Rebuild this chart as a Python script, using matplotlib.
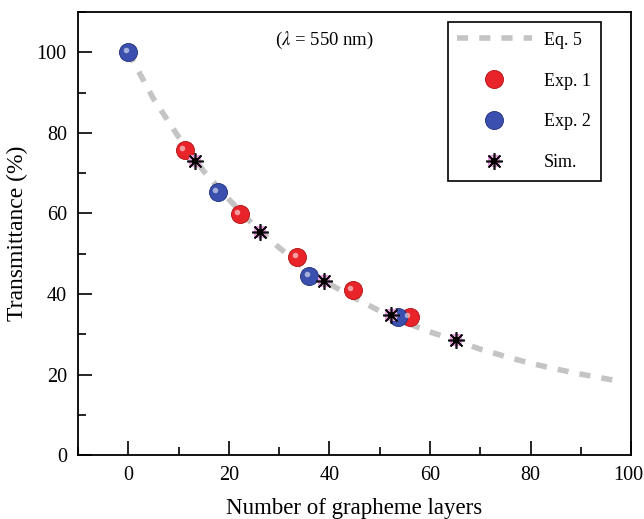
import matplotlib
matplotlib.use('Agg')
import matplotlib.pyplot as plt
from matplotlib.transforms import offset_copy, ScaledTranslation
from matplotlib.ticker import MultipleLocator

# Eq. 5 curve
eq_n = [0, 5, 10, 15, 20, 25, 30, 35, 40, 45, 50, 55, 60, 65, 70, 75, 80, 85, 90, 97]
eq_t = [100, 88.5, 79, 70.5, 63.5, 57, 51.5, 46.5, 42.5, 39, 35.8, 33, 30.6, 28.5, 26.3, 24.5, 22.8, 21.4, 20.1, 18.5]

exp1_n = [11.2, 22.2, 33.6, 44.6, 56.0]
exp1_t = [75.7, 59.8, 49.1, 40.9, 34.2]

exp2_n = [0, 17.8, 36.0, 53.6]
exp2_t = [100, 65.3, 44.4, 34.2]

sim_n = [13.2, 26.2, 39.0, 52.2, 65.2]
sim_t = [73.0, 55.3, 43.2, 34.7, 28.5]

xticks = [0, 20, 40, 60, 80, 100]
yticks = [0, 20, 40, 60, 80, 100]

plt.rcParams['font.family'] = ['Liberation Serif', 'DejaVu Serif']
plt.rcParams['mathtext.fontset'] = 'stix'

fig = plt.figure(figsize=(6.44, 5.19), dpi=100)
ax = fig.add_axes([0.121, 0.123, 0.859, 0.854])

line_eq, = ax.plot(eq_n, eq_t, color='#c4c4c4', lw=4, dashes=(2, 2), zorder=1)

def spheres(n, t, col, dark):
    h1, = ax.plot(n, t, 'o', ms=13, color=col, mec=dark, mew=0.6, zorder=3)
    hl = offset_copy(ax.transData, fig=fig, x=-2.5, y=2.5, units='dots')
    ax.plot(n, t, 'o', ms=4, color='white', alpha=0.55, mew=0, transform=hl, zorder=4)
    return h1

h_exp1 = spheres(exp1_n, exp1_t, '#e8232a', '#b01010')
h_exp2 = spheres(exp2_n, exp2_t, '#3a4fae', '#20307a')

s_bg, = ax.plot(sim_n, sim_t, 's', ms=9, color='#ec9fe2', mew=0, zorder=5)
s_fg, = ax.plot(sim_n, sim_t, marker=(8, 2, 0), ms=12, color='#111111', mew=1.2, ls='none', zorder=6)
s_dot, = ax.plot(sim_n, sim_t, 's', ms=4, color='black', mew=0, zorder=7)

ax.set_xlim(-10, 100)
ax.set_ylim(0, 110)
ax.xaxis.set_minor_locator(MultipleLocator(10))
ax.yaxis.set_minor_locator(MultipleLocator(10))
ax.tick_params(which='both', direction='in', labelsize=14.5, top=False, right=False)
ax.tick_params(which='major', length=10, width=1.2, pad=8)
ax.tick_params(which='minor', length=6, width=1.2)
ax.set_yticks(yticks)
ax.set_xticks(xticks)
ax.set_xticklabels([str(v) for v in xticks])
# keep the last label inside the figure, its right edge at the border
last = ax.get_xticklabels()[-1]
last.set_horizontalalignment('right')
last.set_transform(last.get_transform() + ScaledTranslation(12 / 100, 0, fig.dpi_scale_trans))
for s in ax.spines.values():
    s.set_linewidth(1.3)

ax.set_xlabel('Number of grapheme layers', fontsize=16.5, labelpad=9)
ax.set_ylabel('Transmittance (%)', fontsize=17, labelpad=6)

ax.text(39, 103, r'($\lambda$ = 550 nm)', fontsize=13.5, ha='center', va='center')

leg = ax.legend([line_eq, h_exp1, h_exp2, (s_bg, s_fg, s_dot)],
                ['Eq. 5', 'Exp. 1', 'Exp. 2', 'Sim.'],
                loc='upper right', bbox_to_anchor=(0.962, 0.998), fontsize=13,
                handlelength=4.1, labelspacing=1.32, borderpad=0.55, fancybox=False,
                edgecolor='black', framealpha=1, handletextpad=0.7, borderaxespad=0.5)
leg.get_frame().set_linewidth(1.2)

plt.savefig('out.png', dpi=100)
